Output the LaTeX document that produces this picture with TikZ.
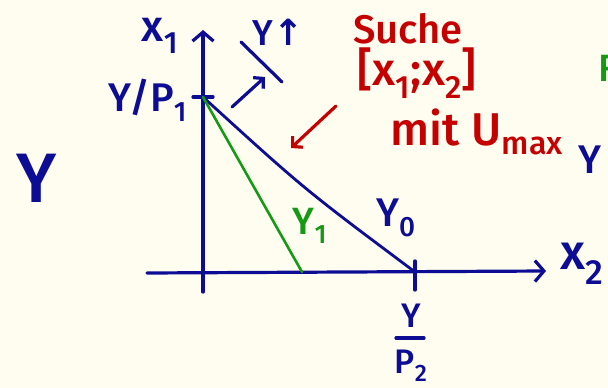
\documentclass[tikz,border=0pt]{standalone}
\usepackage{fontspec}
\setsansfont{Fira Sans}[BoldFont={Fira Sans Medium}]
\newfontfamily\symfont{DejaVu Sans}
\usetikzlibrary{arrows.meta, positioning, calc}
\definecolor{ink}{HTML}{0C0C94}
\definecolor{redink}{HTML}{C40000}
\definecolor{greenink}{HTML}{169A16}
\definecolor{paper}{HTML}{FFFDF0}
\newcommand\handsize[1]{\fontsize{#1}{#1}\selectfont}

\begin{document}
\begin{tikzpicture}[x=1pt, y=-1pt,
    every node/.style={font=\sffamily\bfseries, inner sep=0pt},
    blu/.style={text=ink},
    rd/.style={text=redink},
    grn/.style={text=greenink},
    pen/.style={draw=ink, line width=3.2pt, line cap=round, line join=round},
    redpen/.style={draw=redink, line width=3.2pt, line cap=round, line join=round},
    greenpen/.style={draw=greenink, line width=2.6pt, line cap=round},
    tip/.style={-{Straight Barb[length=9pt, width=21pt]}},
    smalltip/.style={-{Straight Barb[length=7pt, width=15pt]}},
]

\fill[paper] (0,0) rectangle (608,388);
\useasboundingbox (0,0) rectangle (608,388);
\clip (0,0) rectangle (608,388);

% ---------------------------------------------------------------- axes
\coordinate (O) at (203,272);
\coordinate (A) at (203,97);    % Y/P1
\coordinate (B) at (415,272);   % Y/P2
\coordinate (C) at (302,272);   % end of Y1
\coordinate (ybot) at (203,292);
\coordinate (ytop) at (203,30);
\coordinate (xleft) at (147,273);
\coordinate (xright) at (546,271);

\draw[pen, tip] (ybot) -- (ytop);
\draw[pen, tip] (xleft) -- (xright);
\draw[pen] ($(A)+(-10,0)$) -- ($(A)+(10,0)$);
\draw[pen] ($(B)+(0,-11)$) -- ($(B)+(0,18)$);

% ---------------------------------------------------------------- budget lines
\draw[pen, line width=2.8pt] (A) .. controls (304,189) .. (B);
\draw[greenpen] (A) -- (C);

\coordinate (s0) at (232,107);
\coordinate (s1) at (265,77);
\draw[pen, smalltip] (s0) -- (s1);
\coordinate (m0) at (241,42);
\coordinate (m1) at (282,82);
\draw[pen] (m0) -- (m1);

% ---------------------------------------------------------------- labels
\node[blu, font=\sffamily\bfseries\handsize{70}] (bigY) at (37,178) {Y};
\node[blu, font=\sffamily\bfseries\handsize{44}] (lx1) at (160,36) {x\textsubscript{1}};
\node[blu, font=\sffamily\bfseries\handsize{40}] (lyp1) at (148,100) {Y/P\textsubscript{1}};
\node[blu, font=\sffamily\bfseries\handsize{50}, anchor=west] (lx2) at (560,264) {x\textsubscript{2}};
\node[blu, font=\sffamily\bfseries\handsize{36}] (lyup) at (278,32) {Y{\symfont ↑}};
\node[blu, font=\sffamily\bfseries\handsize{40}] (ly0) at (396,218) {Y\textsubscript{0}};
\node[grn, font=\sffamily\bfseries\handsize{38}] (ly1) at (310,226) {Y\textsubscript{1}};

\node[blu, font=\sffamily\bfseries\handsize{34}] (lyp2top) at (411,316) {Y};
\node[blu, font=\sffamily\bfseries\handsize{34}] (lyp2bot) at (411,366) {P\textsubscript{2}};
\draw[pen] ($(lyp2top.south)+(-15,10)$) -- ($(lyp2top.south)+(13,10)$);

% ---------------------------------------------------------------- red note
\node[rd, font=\sffamily\bfseries\handsize{40}] (suche) at (408,29) {Suche};
\node[rd, font=\sffamily\bfseries\handsize{46}] (range) at (417,73) {[x\textsubscript{1};x\textsubscript{2}]};
\node[rd, font=\sffamily\bfseries\handsize{46}] (umax) at (477,132) {mit U\textsubscript{max}};
\coordinate (r0) at (336,106);
\coordinate (r1) at (291,148);
\draw[redpen, smalltip] (r0) -- (r1);

% ---------------------------------------------------------------- cut at the edge
\node[grn, font=\sffamily\bfseries\handsize{38}, anchor=west] (edgeg) at (598,68) {R};
\node[blu, font=\sffamily\bfseries\handsize{40}, anchor=west] (edgeb) at (578,160) {Y};

\end{tikzpicture}
\end{document}
